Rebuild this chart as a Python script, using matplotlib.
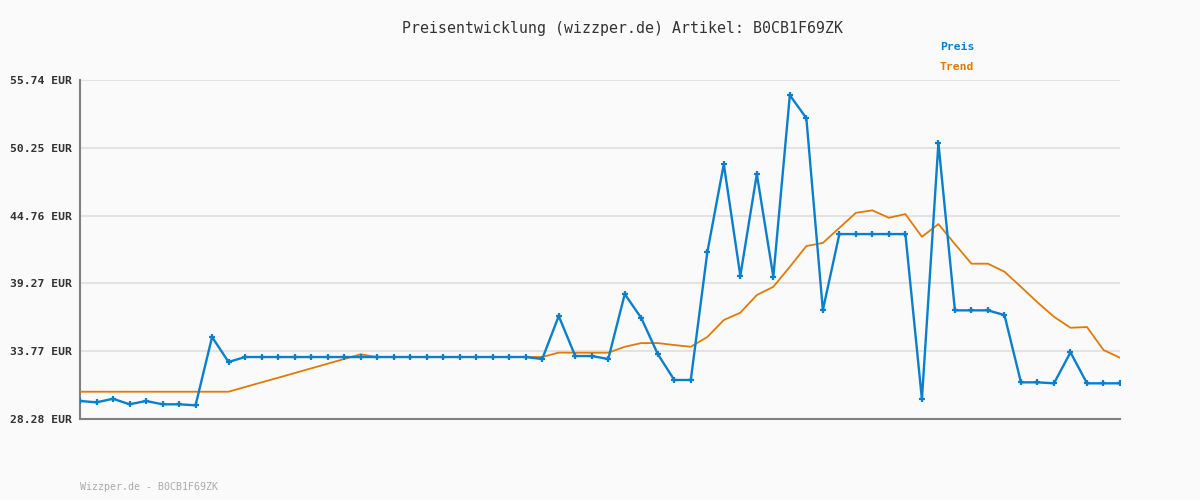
import matplotlib
matplotlib.use("Agg")
import matplotlib.pyplot as plt

title = "Preisentwicklung (wizzper.de) Artikel: B0CB1F69ZK"
footer = "Wizzper.de - B0CB1F69ZK"
yticks = [28.28, 33.77, 39.27, 44.76, 50.25, 55.74]
ytick_labels = ["28.28 EUR", "33.77 EUR", "39.27 EUR", "44.76 EUR", "50.25 EUR", "55.74 EUR"]

preis = [29.74, 29.63, 29.92, 29.47, 29.74, 29.47, 29.47, 29.39, 34.92, 32.90,
         33.30, 33.30, 33.30, 33.30, 33.30, 33.30, 33.30, 33.30, 33.30, 33.30,
         33.30, 33.30, 33.30, 33.30, 33.30, 33.30, 33.30, 33.30, 33.14, 36.62,
         33.38, 33.38, 33.14, 38.40, 36.46, 33.54, 31.44, 31.44, 41.78, 48.93,
         39.88, 48.12, 39.80, 54.51, 52.65, 37.10, 43.26, 43.26, 43.26, 43.26,
         43.26, 29.88, 50.63, 37.08, 37.08, 37.08, 36.70, 31.25, 31.25, 31.17,
         33.68, 31.17, 31.17, 31.17]

trend = [30.49, 30.49, 30.49, 30.49, 30.49, 30.49, 30.49, 30.49, 30.49, 30.49,
         30.87, 31.25, 31.62, 32.00, 32.38, 32.76, 33.14, 33.52, 33.30, 33.30,
         33.30, 33.30, 33.30, 33.30, 33.30, 33.30, 33.30, 33.30, 33.30, 33.66,
         33.65, 33.65, 33.65, 34.13, 34.43, 34.43, 34.27, 34.13, 34.92, 36.30,
         36.89, 38.32, 38.99, 40.61, 42.29, 42.54, 43.76, 44.98, 45.18, 44.58,
         44.88, 43.04, 44.07, 42.45, 40.86, 40.86, 40.21, 38.99, 37.73, 36.56,
         35.67, 35.73, 33.87, 33.24]

blue = "#0a7fcc"
orange = "#e07b0a"
bg = "#fafafa"

fig = plt.figure(figsize=(12, 5), dpi=100, facecolor=bg)
ax = fig.add_axes([80/1200, 81/500, 1040/1200, 339/500], facecolor=bg)

x = list(range(len(preis)))
ax.plot(x, trend, color=orange, lw=1.3, zorder=3)
ax.plot(x, preis, color=blue, lw=1.7, marker="+", ms=4.5, mew=1.6, zorder=4)

ax.set_xlim(0, len(preis) - 1)
ax.set_ylim(yticks[0], yticks[-1])
ax.set_yticks(yticks)
ax.set_yticklabels(ytick_labels, family="DejaVu Sans Mono", fontsize=8.2,
                   fontweight="bold", color="#333333")
ax.tick_params(axis="y", length=0, pad=5.8)
ax.set_xticks([])
for y in yticks[1:]:
    ax.axhline(y, color="#e3e3e3", lw=1.5, zorder=1)

for s in ["top", "right"]:
    ax.spines[s].set_visible(False)
for s in ["left", "bottom"]:
    ax.spines[s].set_color("#808080")
    ax.spines[s].set_linewidth(1.5)

fig.text(623/1200, 1 - 28/500, title, ha="center", va="center",
         family="DejaVu Sans Mono", fontsize=10.75, color="#333333")
fig.text(940/1200, 1 - 47/500, "Preis", ha="left", va="center",
         family="DejaVu Sans Mono", fontsize=8.2, fontweight="bold", color=blue)
fig.text(940/1200, 1 - 67/500, "Trend", ha="left", va="center",
         family="DejaVu Sans Mono", fontsize=8.2, fontweight="bold", color=orange)
fig.text(80/1200, 1 - 487/500, footer, ha="left", va="center",
         family="DejaVu Sans Mono", fontsize=7.2, color="#aaaaaa")

fig.savefig("out.png", dpi=100, facecolor=bg)
